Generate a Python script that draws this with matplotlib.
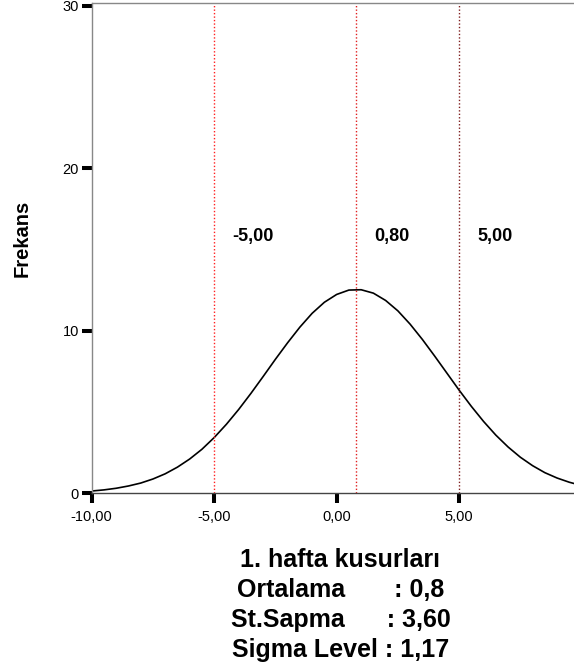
import matplotlib
matplotlib.use("Agg")
import matplotlib.pyplot as plt

# values (normal curve fitted in SPSS)
curve_x = [-10.0, -9.5, -9.0, -8.5, -8.0, -7.5, -7.0, -6.5, -6.0, -5.5,
           -5.0, -4.5, -4.0, -3.5, -3.0, -2.5, -2.0, -1.5, -1.0, -0.5,
           0.0, 0.5, 1.0, 1.5, 2.0, 2.5, 3.0, 3.5, 4.0, 4.5,
           5.0, 5.5, 6.0, 6.5, 7.0, 7.5, 8.0, 8.5, 9.0, 9.5, 10.0]
curve_y = [0.14, 0.21, 0.31, 0.45, 0.63, 0.88, 1.20, 1.61, 2.11, 2.71,
           3.43, 4.25, 5.16, 6.15, 7.19, 8.25, 9.27, 10.23, 11.08, 11.76,
           12.24, 12.51, 12.53, 12.32, 11.87, 11.23, 10.41, 9.47, 8.45, 7.40,
           6.35, 5.35, 4.42, 3.58, 2.85, 2.22, 1.70, 1.27, 0.94, 0.68, 0.48]

ref_lines = [-5.0, 0.8, 5.0]
ref_labels = ["-5,00", "0,80", "5,00"]
ref_colors = ["#ff2020", "#e02020", "#802020"]

xticks = [-10, -5, 0, 5]
xtick_labels = ["-10,00", "-5,00", "0,00", "5,00"]
yticks = [0, 10, 20, 30]

title = "1. hafta kusurları"
stats_lines = ["Ortalama       : 0,8", "St.Sapma      : 3,60", "Sigma Level : 1,17"]

plt.rcParams["font.family"] = ["Liberation Sans", "DejaVu Sans"]

W, H = 574, 671
fig = plt.figure(figsize=(W / 100, H / 100), dpi=100)
ax = fig.add_axes([91.7 / W, 1 - 493.3 / H, 1 - 91.7 / W, (493.3 - 3) / H])

ax.plot(curve_x, curve_y, color="black", lw=1.2)
for xv, lab, c in zip(ref_lines, ref_labels, ref_colors):
    ax.axvline(xv, color=c, lw=1, linestyle=(0, (1, 1.5)))
    ax.text(xv + 0.74, 15.5, lab, fontsize=13, fontweight="bold", ha="left", va="baseline")

ax.set_xlim(-10, 9.69)
ax.set_ylim(0, 30.18)
ax.set_xticks(xticks)
ax.set_xticklabels(xtick_labels)
ax.set_yticks(yticks)
ax.tick_params(axis="both", length=7.2, width=2.9, color="black", labelsize=10.5)
ax.tick_params(axis="x", pad=5)
ax.tick_params(axis="y", pad=2)

ax.spines["left"].set_color("#888888")
ax.spines["top"].set_color("#888888")
ax.spines["bottom"].set_color("#444444")
ax.spines["right"].set_visible(False)
for s in ax.spines.values():
    s.set_linewidth(1)

fig.text(22 / W, 1 - 238 / H, "Frekans", rotation=90, fontsize=14.5, fontweight="bold",
         ha="center", va="center")

fig.text(340 / W, 1 - 567 / H, title, fontsize=18, fontweight="bold", ha="center", va="baseline")
for i, line in enumerate(stats_lines):
    fig.text(341 / W, 1 - (597 + 30 * i) / H, line, fontsize=18, fontweight="bold",
             ha="center", va="baseline")

fig.savefig("out.png", dpi=100)
